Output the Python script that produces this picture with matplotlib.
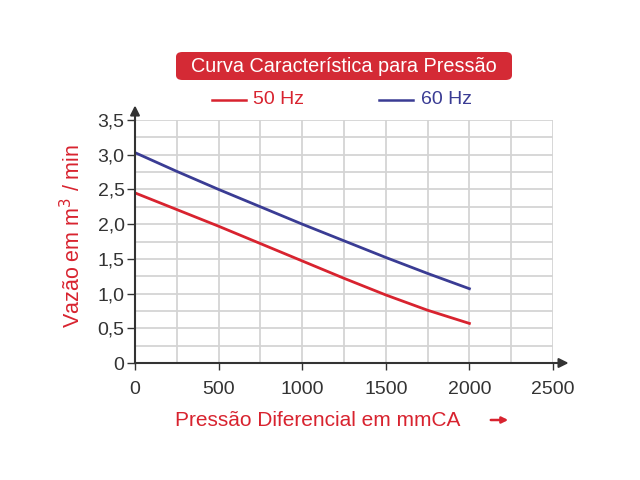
import numpy as np
import matplotlib.pyplot as plt
from matplotlib.patches import FancyBboxPatch

plt.rcParams['font.family'] = ['Liberation Sans', 'DejaVu Sans']

# data
pressure = [0, 250, 500, 750, 1000, 1250, 1500, 1750, 2000]
flow_50hz = [2.45, 2.21, 1.97, 1.72, 1.47, 1.22, 0.98, 0.76, 0.57]
flow_60hz = [3.03, 2.76, 2.50, 2.25, 2.00, 1.76, 1.52, 1.29, 1.07]
xticks = [0, 500, 1000, 1500, 2000, 2500]
yticks = [0, 0.5, 1.0, 1.5, 2.0, 2.5, 3.0, 3.5]
ylabels = ['0', '0,5', '1,0', '1,5', '2,0', '2,5', '3,0', '3,5']

red = '#d8232f'
blue = '#3a3c94'
dark = '#333333'

fig = plt.figure(figsize=(6.4, 4.8), dpi=100)
ax = fig.add_axes([135/640, 1 - 363/480, 418/640, 243/480])

ax.set_xlim(0, 2500)
ax.set_ylim(0, 3.5)
ax.set_xticks(xticks)
ax.set_yticks(yticks)
ax.set_yticklabels(ylabels)
ax.set_xticks(np.arange(0, 2501, 250), minor=True)
ax.set_yticks(np.arange(0, 3.51, 0.25), minor=True)
ax.grid(which='both', color='#d4d4d4', linewidth=1.3)
ax.tick_params(which='minor', length=0)
ax.tick_params(which='major', color=dark, labelsize=14, labelcolor=dark, width=1)
ax.tick_params(axis='x', which='major', length=5, pad=8)
ax.tick_params(axis='y', which='major', length=6, pad=1.5)
ax.set_axisbelow(True)
for s in ['top', 'right']:
    ax.spines[s].set_visible(False)
for s in ['left', 'bottom']:
    ax.spines[s].set_color(dark)
    ax.spines[s].set_linewidth(1.5)

ax.plot(pressure, flow_50hz, color=red, linewidth=2)
ax.plot(pressure, flow_60hz, color=blue, linewidth=2)

# axis arrows
ax.annotate('', xy=(2610, 0), xytext=(2490, 0), xycoords='data',
            arrowprops=dict(arrowstyle='-|>', color=dark, lw=1.5, mutation_scale=14),
            annotation_clip=False)
ax.annotate('', xy=(0, 3.75), xytext=(0, 3.45), xycoords='data',
            arrowprops=dict(arrowstyle='-|>', color=dark, lw=1.5, mutation_scale=14),
            annotation_clip=False)

# title box
box = FancyBboxPatch((176/640, 1 - 80/480), 336/640, 28/480,
                     boxstyle='round,pad=0,rounding_size=0.01',
                     transform=fig.transFigure, facecolor='#d42a35', edgecolor='none')
fig.patches.append(box)
fig.text(344/640, 1 - 66/480, 'Curva Característica para Pressão', color='white',
         fontsize=14.3, ha='center', va='center')

# legend
fig.lines.append(plt.Line2D([212/640, 246/640], [1 - 100/480] * 2, color=red, lw=1.8,
                            transform=fig.transFigure))
fig.text(253/640, 1 - 100/480, '50 Hz', color=red, fontsize=14, va='center')
fig.lines.append(plt.Line2D([379/640, 413/640], [1 - 100/480] * 2, color=blue, lw=1.8,
                            transform=fig.transFigure))
fig.text(421/640, 1 - 100/480, '60 Hz', color=blue, fontsize=14, va='center')

# axis labels
fig.text(73/640, 1 - 236/480, 'Vazão em m$^3$ / min', color=red, fontsize=15.5,
         rotation=90, ha='center', va='center')
fig.text(318/640, 1 - 421/480, 'Pressão Diferencial em mmCA', color=red, fontsize=15,
         ha='center', va='center')
ax.annotate('', xy=(511/640, 1 - 420/480), xytext=(488/640, 1 - 420/480),
            xycoords='figure fraction',
            arrowprops=dict(arrowstyle='-|>', color=red, lw=1.8, mutation_scale=9))

fig.savefig('out.png', dpi=100)
